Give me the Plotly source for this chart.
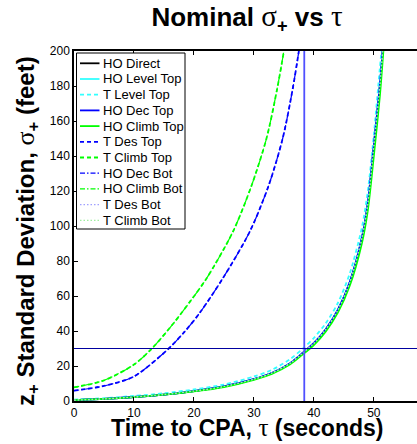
import plotly.graph_objects as go

# ---- data ----
tau_main = [0, 5, 10, 15, 20, 25, 30, 33, 36, 38, 40, 42, 44, 46, 48, 49, 50, 51, 51.7]
ho_direct = [0.5, 1.2, 2.3, 3.7, 5.7, 8.3, 12.5, 16, 21.5, 27, 33, 41, 52, 68, 93, 113, 146, 180, 210]
ho_level_top = [0.5, 1.2, 2.3, 3.7, 5.7, 8.3, 12.5, 16, 21.5, 27, 33, 41, 52, 68, 93, 113, 146, 180, 210]
t_level_top = [0.8, 1.6, 2.9, 4.4, 6.6, 9.4, 14, 17.8, 23.8, 29.5, 36, 44.5, 56, 73, 99, 120, 152, 190, 215]
ho_dec_top = [0.5, 1.2, 2.3, 3.7, 5.7, 8.3, 12.5, 16, 21.5, 27, 33, 41, 52, 68, 93, 113, 146, 180, 210]
ho_climb_top = [0.5, 1.2, 2.2, 3.6, 5.5, 8.0, 12.1, 15.5, 20.8, 26.2, 32, 39.8, 50.5, 66, 90, 109, 140, 174, 205]
t_des_bot = [0.5, 1.2, 2.3, 3.7, 5.7, 8.3, 12.5, 16, 21.5, 27, 33, 41, 52, 68, 93, 113, 146, 180, 210]
t_climb_bot = [0.5, 1.2, 2.3, 3.7, 5.7, 8.3, 12.5, 16, 21.5, 27, 33, 41, 52, 68, 93, 113, 146, 180, 210]

tau_climb = [0, 5, 10, 13, 16.5, 19.5, 22.1, 26.5, 29.6, 32.1, 33.8, 35.0, 35.5]
t_climb_top = [7.8, 11.8, 20.8, 30, 44, 57.5, 70, 96.7, 123, 150, 177, 200, 212]
ho_climb_bot = [7.8, 11.8, 20.8, 30, 44, 57.5, 70, 96.7, 123, 150, 177, 200, 212]

tau_des = [0, 5, 10, 15.8, 18.45, 21, 24.8, 29.3, 32.45, 34.8, 36.4, 37.5, 38]
t_des_top = [5.9, 8.6, 14, 30, 39.6, 50.5, 70, 96.7, 123, 150, 177, 200, 212.5]
ho_dec_bot = [5.9, 8.6, 14, 30, 39.6, 50.5, 70, 96.7, 123, 150, 177, 200, 212.5]

sigma_threshold = 30
tau_threshold = 38.4

x_ticks = [0, 10, 20, 30, 40, 50]
y_ticks = [0, 20, 40, 60, 80, 100, 120, 140, 160, 180, 200]

DASH = "4px,3px"
DASHDOT = "5px,2px,1.5px,2px"
DOT = "1.5px,2px"

series = [
    ("HO Direct", tau_main, ho_direct, "#000000", "solid", 1.8),
    ("HO Level Top", tau_main, ho_level_top, "#33ffff", "solid", 1.8),
    ("T Level Top", tau_main, t_level_top, "#33ffff", DASH, 1.8),
    ("HO Dec Top", tau_main, ho_dec_top, "#0000ff", "solid", 1.8),
    ("HO Climb Top", tau_main, ho_climb_top, "#00ff00", "solid", 1.8),
    ("T Des Top", tau_des, t_des_top, "#0000ff", DASH, 1.8),
    ("T Climb Top", tau_climb, t_climb_top, "#00ff00", DASH, 1.8),
    ("HO Dec Bot", tau_des, ho_dec_bot, "#0000ff", DASHDOT, 1.2),
    ("HO Climb Bot", tau_climb, ho_climb_bot, "#00ff00", DASHDOT, 1.2),
    ("T Des Bot", tau_main, t_des_bot, "#a0a0ff", DOT, 1.2),
    ("T Climb Bot", tau_main, t_climb_bot, "#a0eea0", DOT, 1.2),
]

fig = go.Figure()
for name, xs, ys, col, dash, w in series:
    fig.add_trace(go.Scatter(
        x=xs, y=ys, name=name, mode="lines", showlegend=False,
        line=dict(color=col, dash=dash, width=w, shape="spline", smoothing=0.8),
    ))

# plot area geometry in px (for the hand-made compact legend)
L, T, W, H = 74, 51, 343, 350
def px_x(p):
    return (p - L) / W
def px_y(p):
    return (T + H - p) / H

shapes = [
    dict(type="line", xref="x", yref="paper", x0=tau_threshold, x1=tau_threshold,
         y0=0, y1=1, line=dict(color="#5050ff", width=1.8)),
    dict(type="line", xref="paper", yref="y", x0=0, x1=1,
         y0=sigma_threshold, y1=sigma_threshold, line=dict(color="#0000a0", width=1.2)),
    dict(type="rect", xref="paper", yref="paper", x0=px_x(76.5), x1=px_x(185),
         y0=px_y(229), y1=px_y(53), line=dict(color="black", width=1), fillcolor="white",
         layer="above"),
]

font_sans = "Liberation Sans, Arial, Helvetica, sans-serif"

annotations = []
for i, (name, xs, ys, col, dash, w) in enumerate(series):
    yc = 63.3 + i * 15.7
    shapes.append(dict(type="line", xref="paper", yref="paper", x0=px_x(80), x1=px_x(99.5),
                       y0=px_y(yc), y1=px_y(yc), line=dict(color=col, dash=dash, width=w),
                       layer="above"))
    annotations.append(dict(text=name, xref="paper", yref="paper", x=px_x(100.5), y=px_y(yc),
                            xanchor="left", yanchor="middle", showarrow=False,
                            font=dict(family=font_sans, size=13, color="black")))

annotations += [
    dict(text="<b>Time to CPA, </b><span style='font-family:Liberation Serif;font-size:25px'>τ</span><b> (seconds)</b>",
         xref="paper", yref="paper", x=px_x(247), y=px_y(427), xanchor="center", yanchor="middle",
         showarrow=False, font=dict(family=font_sans, size=23, color="black")),
    dict(text="<b>z</b><sub><b>+</b></sub><b> Standard Deviation, </b><span style='font-family:Liberation Serif;font-size:26px'>σ</span><sub><b>+</b></sub><b> (feet)</b>",
         xref="paper", yref="paper", x=px_x(27), y=px_y(231), xanchor="center", yanchor="middle",
         textangle=-90, showarrow=False, font=dict(family=font_sans, size=24, color="black")),
]

fig.update_layout(
    width=417, height=444,
    margin=dict(l=L, r=0, t=T, b=444 - T - H),
    paper_bgcolor="white", plot_bgcolor="white",
    showlegend=False,
    font=dict(family=font_sans, color="black", size=12),
    title=dict(
        text=("<b>Nominal </b><span style='font-family:Liberation Serif;font-size:29px'>σ</span>"
              "<sub><b>+</b></sub><b> vs </b><span style='font-family:Liberation Serif;font-size:29px'>τ</span>"),
        font=dict(family=font_sans, size=26, color="black"),
        x=247 / 417, xanchor="center", xref="container",
        y=1 - 8 / 444, yanchor="top", yref="container",
    ),
    xaxis=dict(
        range=[0, 57.2], tickvals=x_ticks, ticktext=[str(v) for v in x_ticks],
        ticks="inside", ticklen=4, tickcolor="black", showgrid=False, zeroline=False,
        showline=True, linecolor="black", linewidth=1.5, mirror="ticks",
        tickfont=dict(size=12, color="black"),
    ),
    yaxis=dict(
        range=[0, 200], tickvals=y_ticks, ticktext=[str(v) for v in y_ticks],
        ticks="inside", ticklen=4, tickcolor="black", showgrid=False, zeroline=False,
        showline=True, linecolor="black", linewidth=1.5, mirror=False,
        tickfont=dict(size=12, color="black"),
    ),
    shapes=shapes,
    annotations=annotations,
)

fig.write_html("out.html")
